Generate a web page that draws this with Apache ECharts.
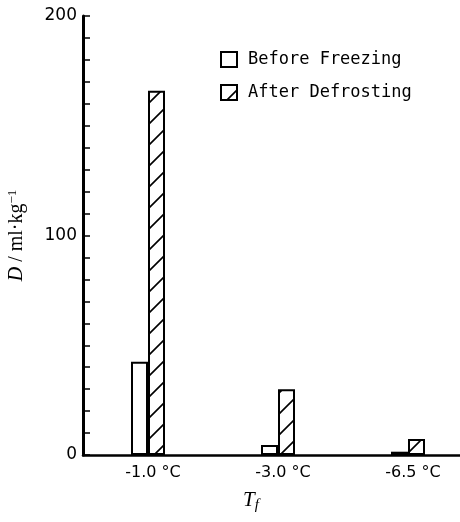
<!DOCTYPE html>
<html><head><meta charset="utf-8">
<script src="https://cdn.jsdelivr.net/npm/echarts@6/dist/echarts.min.js"></script>
<style>html,body{margin:0;padding:0;background:#fff}#c{width:460px;height:522px}</style>
</head><body><div id="c"></div>
<script>
const categories = ['-1.0 °C', '-3.0 °C', '-6.5 °C'];
const beforeFreezing = [42.5, 4.5, 1.5];
const afterDefrosting = [166, 30, 7.3];
const yTickLabels = [0, 100, 200];

function hatch() {
  const s = 21, c = document.createElement('canvas');
  c.width = s; c.height = s;
  const g = c.getContext('2d');
  g.fillStyle = '#fff'; g.fillRect(0, 0, s, s);
  g.strokeStyle = '#000'; g.lineWidth = 1.6;
  g.beginPath();
  g.moveTo(-2, s + 2); g.lineTo(s + 2, -2);
  g.moveTo(-2, 2); g.lineTo(2, -2);
  g.moveTo(s - 2, s + 2); g.lineTo(s + 2, s - 2);
  g.stroke();
  return c;
}

const chart = echarts.init(document.getElementById('c'));
chart.setOption({
  animation: false,
  backgroundColor: '#fff',
  grid: { left: 83, right: -13, top: 16, bottom: 67, containLabel: false, outerBoundsMode: 'none' },
  legend: {
    orient: 'vertical', left: 215, top: 46,
    itemWidth: 16, itemHeight: 15, itemGap: 16,
    icon: 'rect',
    textStyle: { fontFamily: 'DejaVu Sans Mono', fontSize: 17, color: '#000', padding: [0, 0, 0, 6] },
    data: ['Before Freezing', 'After Defrosting']
  },
  xAxis: {
    type: 'category', data: categories,
    axisLine: { lineStyle: { color: '#000', width: 2.5 } },
    axisTick: { show: false },
    axisLabel: { color: '#000', fontFamily: 'DejaVu Sans', fontSize: 16, margin: 10, padding: [0, 0, 0, 10] }
  },
  yAxis: {
    type: 'value', min: 0, max: 200, interval: 10,
    name: '{i|D} / ml·kg{s|−1}',
    nameLocation: 'middle', nameGap: 55, nameRotate: 90,
    nameTextStyle: {
      color: '#000', fontFamily: 'Liberation Serif', fontSize: 20,
      rich: {
        i: { fontStyle: 'italic', fontFamily: 'Liberation Serif', fontSize: 20 },
        s: { fontFamily: 'Liberation Serif', fontSize: 13, verticalAlign: 'top', padding: [0, 0, 9, 0] }
      }
    },
    axisLine: { show: true, lineStyle: { color: '#000', width: 3 } },
    axisTick: { show: true, inside: true, length: 7, lineStyle: { color: '#000', width: 1.5 } },
    splitLine: { show: false },
    axisLabel: {
      color: '#000', fontFamily: 'DejaVu Sans', fontSize: 17, margin: 6,
      formatter: v => yTickLabels.includes(v) ? String(v) : ''
    }
  },
  graphic: [{
    type: 'text', left: 243, top: 490,
    style: {
      text: '{t|T}{f|f}',
      rich: {
        t: { fontFamily: 'Liberation Serif', fontStyle: 'italic', fontSize: 21, fill: '#000' },
        f: { fontFamily: 'Liberation Serif', fontStyle: 'italic', fontSize: 15, fill: '#000', padding: [10, 0, 0, 0] }
      }
    }
  }],
  series: [
    {
      name: 'Before Freezing', type: 'bar', data: beforeFreezing,
      barWidth: 17, barGap: '0%',
      itemStyle: { color: '#fff', borderColor: '#000', borderWidth: 2 }
    },
    {
      name: 'After Defrosting', type: 'bar', data: afterDefrosting,
      barWidth: 17,
      itemStyle: { color: { image: hatch(), repeat: 'repeat' }, borderColor: '#000', borderWidth: 2 }
    }
  ]
});
</script></body></html>
